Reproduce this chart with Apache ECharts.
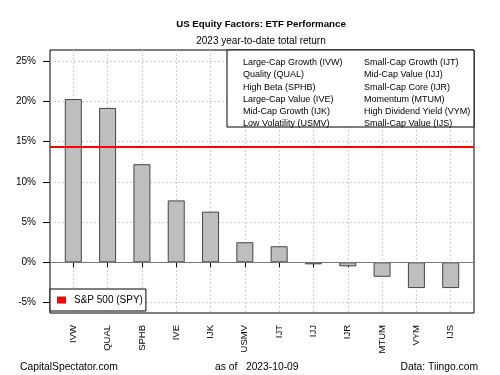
<!DOCTYPE html>
<html lang="en">
<head>
    <meta charset="UTF-8">
    <title>US Equity Factors: ETF Performance</title>
    <script src="https://cdn.jsdelivr.net/npm/echarts@6/dist/echarts.min.js"></script>
    <style>
        body { margin: 0; background: #fff; }
    </style>
</head>
<body>
<div id="main" style="width: 500px;height:375px;"></div>

<script>
    // data (% year-to-date)
    var tickers = ['IVW', 'QUAL', 'SPHB', 'IVE', 'IJK', 'USMV', 'IJT', 'IJJ', 'IJR', 'MTUM', 'VYM', 'IJS'];
    var returns = [20.3, 19.2, 12.2, 7.7, 6.3, 2.5, 2.0, -0.25, -0.5, -1.8, -3.2, -3.2];
    var spyReturn = 14.4;
    var yMin = -6.3, yMax = 26.4;      // full plot range
    var tickMin = -5, tickMax = 25;    // labelled range
    var namesLeft = ['Large-Cap Growth (IVW)', 'Quality (QUAL)', 'High Beta (SPHB)',
        'Large-Cap Value (IVE)', 'Mid-Cap Growth (IJK)', 'Low Volatility (USMV)'];
    var namesRight = ['Small-Cap Growth (IJT)', 'Mid-Cap Value (IJJ)', 'Small-Cap Core (IJR)',
        'Momentum (MTUM)', 'High Dividend Yield (VYM)', 'Small-Cap Value (IJS)'];

    var font = 'Liberation Sans, Arial, sans-serif';

    // plot frame in pixels, the labelled grid sits inside it on the same scale
    var plotTop = 50, plotBottom = 313;
    var pxPer = (plotBottom - plotTop) / (yMax - yMin);
    var tickTop = plotTop + (yMax - tickMax) * pxPer;
    var tickBottom = plotBottom - (tickMin - yMin) * pxPer;

    var myChart = echarts.init(document.getElementById('main'));

    // name table in the top right corner
    var tableItems = [{
        type: 'rect', z: 20,
        shape: { x: 227, y: 50, width: 247, height: 77 },
        style: { fill: '#fff', stroke: '#000', lineWidth: 1 }
    }];
    namesLeft.forEach(function (n, i) {
        tableItems.push({ type: 'text', z: 21, x: 243, y: 58 + i * 12.3,
            style: { text: n, font: '9px ' + font, fill: '#000' } });
    });
    namesRight.forEach(function (n, i) {
        tableItems.push({ type: 'text', z: 21, x: 364, y: 58 + i * 12.3,
            style: { text: n, font: '9px ' + font, fill: '#000' } });
    });

    var option = {
        animation: false,
        textStyle: { fontFamily: font },
        title: [{
            text: 'US Equity Factors: ETF Performance',
            left: 256, top: 14, textAlign: 'center',
            textStyle: { fontSize: 9.7, fontWeight: 'bold', color: '#000' }
        }, {
            text: '2023 year-to-date total return',
            left: 256, top: 31, textAlign: 'center',
            textStyle: { fontSize: 10, fontWeight: 'normal', color: '#000' }
        }],
        legend: {
            data: [{ name: 'S&P 500 (SPY)', icon: 'rect' }],
            left: 50, top: 289,
            padding: [6, 3, 6, 7],
            itemWidth: 9, itemHeight: 7, itemGap: 8,
            borderColor: '#000', borderWidth: 1, borderRadius: 0,
            backgroundColor: '#fff',
            textStyle: { fontSize: 10, color: '#000', padding: [0, 0, 0, 3] }
        },
        // grid 0: bars; grid 1: frame; grid 2: y labels, ticks, horizontal lines
        grid: [
            { left: 73.3, right: 49.3, top: plotTop, bottom: 375 - plotBottom },
            { left: 50, right: 26, top: plotTop, bottom: 375 - plotBottom,
                show: true, borderColor: '#000', borderWidth: 1 },
            { left: 50, right: 26, top: tickTop, bottom: 375 - tickBottom }
        ],
        xAxis: [{
            type: 'category', gridIndex: 0,
            data: tickers, boundaryGap: false,
            axisLine: { show: false },
            axisTick: { show: true, length: 5, interval: 0, lineStyle: { color: '#000' } },
            axisLabel: { interval: 0, rotate: 90, fontSize: 9.5, color: '#000', margin: 12 },
            splitLine: { show: true, interval: 0, lineStyle: { color: '#ccc', type: [2, 2] } }
        }, {
            type: 'value', gridIndex: 1, min: 0, max: 1, show: false
        }, {
            type: 'value', gridIndex: 2, min: 0, max: 1, show: false
        }],
        yAxis: [{
            type: 'value', gridIndex: 0, min: yMin, max: yMax, show: false
        }, {
            type: 'value', gridIndex: 1, min: yMin, max: yMax, show: false
        }, {
            type: 'value', gridIndex: 2, min: tickMin, max: tickMax, interval: 5,
            axisLine: { show: false },
            axisTick: { show: true, length: 7, lineStyle: { color: '#000' } },
            axisLabel: { fontSize: 10, color: '#000', margin: 14, formatter: '{value}%' },
            splitLine: { show: true, lineStyle: { color: '#ccc', type: [2, 2] } }
        }],
        series: [{
            name: 'ETF',
            type: 'bar',
            xAxisIndex: 0, yAxisIndex: 0,
            barWidth: 17,
            data: returns,
            itemStyle: { color: '#bebebe', borderColor: '#444', borderWidth: 1 },
            z: 3
        }, {
            // zero line across the frame
            name: 'zero',
            type: 'line',
            xAxisIndex: 1, yAxisIndex: 1,
            data: [],
            markLine: {
                silent: true, symbol: 'none', label: { show: false },
                lineStyle: { color: '#777', type: 'solid', width: 1 },
                data: [{ yAxis: 0 }]
            },
            z: 2
        }, {
            // benchmark line
            name: 'S&P 500 (SPY)',
            type: 'line',
            xAxisIndex: 1, yAxisIndex: 1,
            data: [],
            itemStyle: { color: '#f00' },
            lineStyle: { color: '#f00' },
            markLine: {
                silent: true, symbol: 'none', label: { show: false },
                lineStyle: { color: '#f00', type: 'solid', width: 2 },
                data: [{ yAxis: spyReturn }]
            },
            z: 5
        }],
        graphic: [{
            type: 'group', children: tableItems
        }, {
            type: 'text', left: 20, top: 362,
            style: { text: 'CapitalSpectator.com', font: '10.3px ' + font, fill: '#000' }
        }, {
            type: 'text', left: 215, top: 362,
            style: { text: 'as of   2023-10-09', font: '10.3px ' + font, fill: '#000' }
        }, {
            type: 'text', right: 22, top: 362,
            style: { text: 'Data: Tiingo.com', font: '10.3px ' + font, fill: '#000' }
        }]
    };

    myChart.setOption(option);
</script>
</body>
</html>
